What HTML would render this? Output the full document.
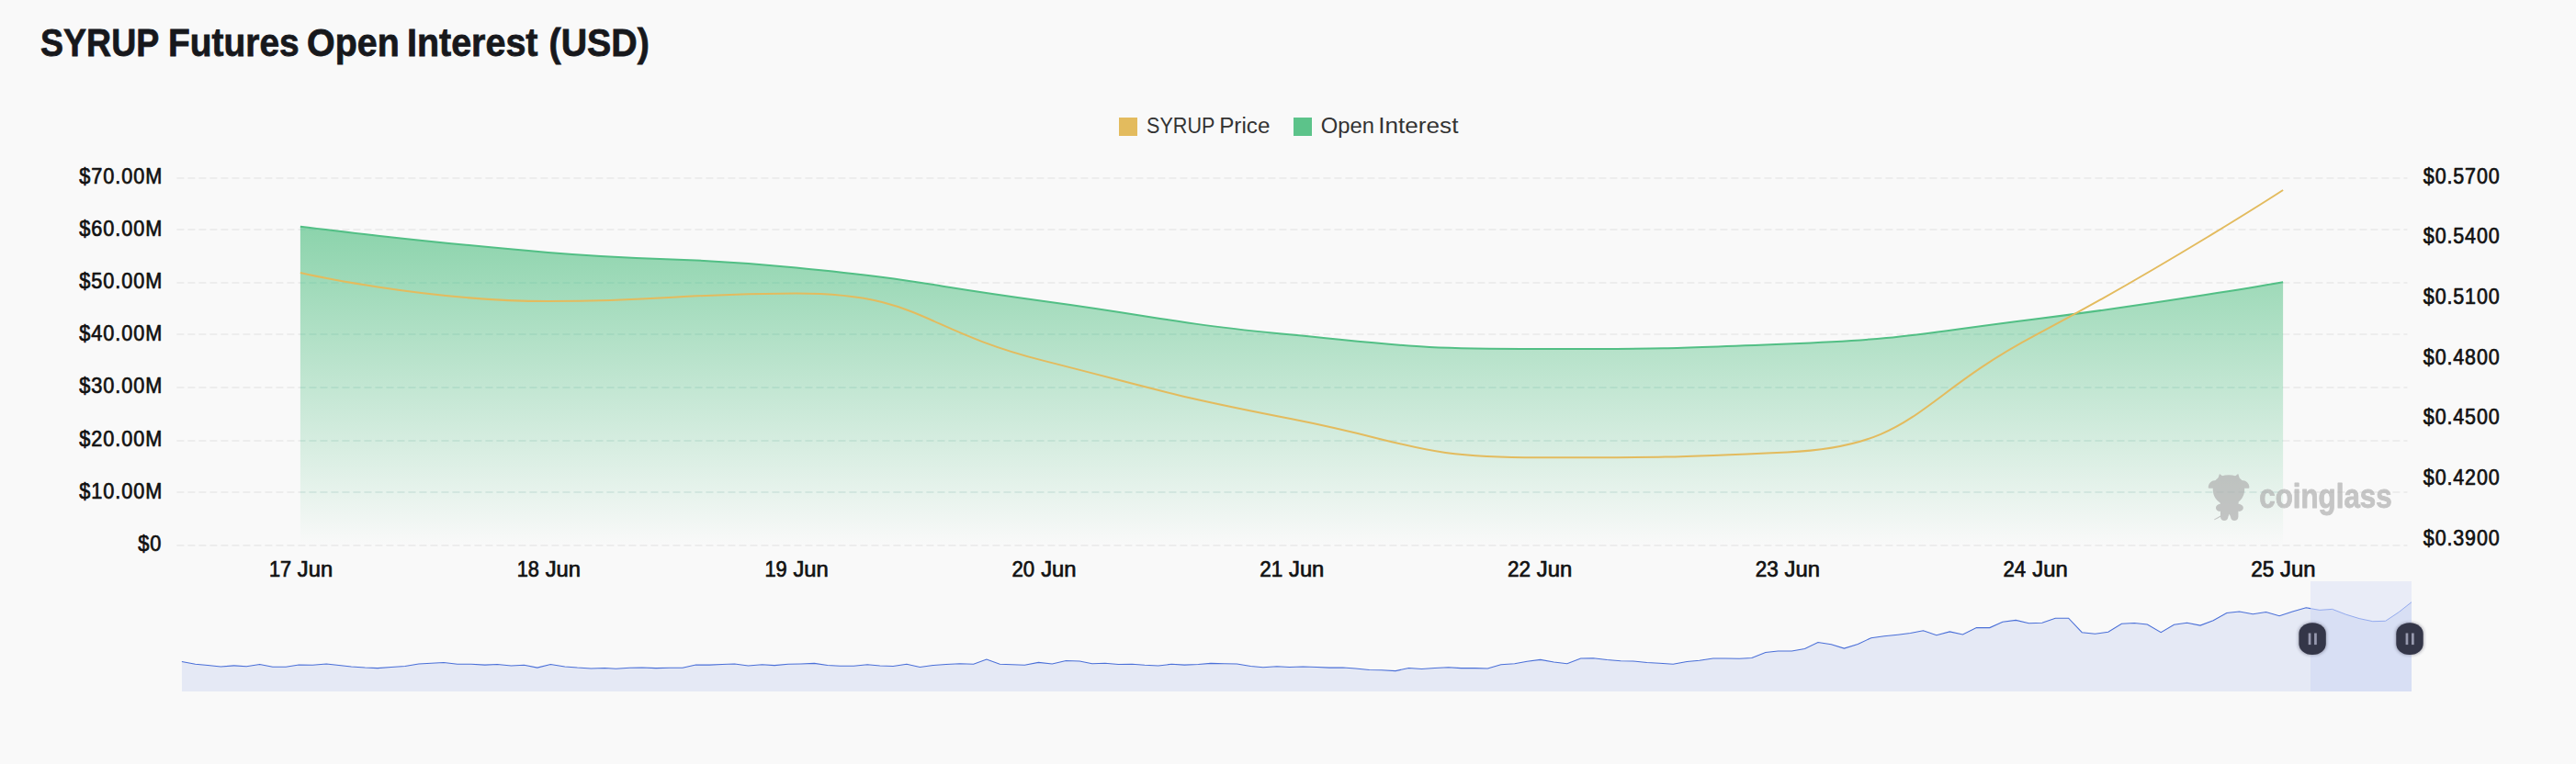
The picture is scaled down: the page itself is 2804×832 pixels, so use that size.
<!DOCTYPE html>
<html lang="en"><head><meta charset="utf-8"><title>SYRUP Futures Open Interest (USD)</title>
<style>
html,body{margin:0;padding:0;background:#f9f9f9;}
body{width:2804px;height:832px;overflow:hidden;position:relative;font-family:"Liberation Sans",Arial,sans-serif;}
</style></head><body>
<svg width="2804" height="832" viewBox="0 0 2804 832" style="position:absolute;left:0;top:0;display:block">
<defs>
<linearGradient id="ga" x1="0" y1="246" x2="0" y2="594" gradientUnits="userSpaceOnUse">
<stop offset="0" stop-color="#5cc38a" stop-opacity="0.70"/>
<stop offset="1" stop-color="#5cc38a" stop-opacity="0"/>
</linearGradient>
<filter id="sh" x="-40%" y="-40%" width="180%" height="180%"><feGaussianBlur stdDeviation="1.6"/></filter>
<clipPath id="cw"><rect x="2515" y="633" width="110" height="120"/></clipPath>
<clipPath id="co"><rect x="190" y="633" width="2325" height="120"/></clipPath>
</defs>
<rect width="2804" height="832" fill="#f9f9f9"/>
<text id="title" y="60.5" font-family="'Liberation Sans',Arial,sans-serif" font-weight="700" font-size="43.0" fill="#17181c" stroke="#17181c" stroke-width="0.8"><tspan x="44.12" textLength="128.47" lengthAdjust="spacingAndGlyphs">SYRUP</tspan> <tspan x="182.97" textLength="142.81" lengthAdjust="spacingAndGlyphs">Futures</tspan> <tspan x="334.07" textLength="100.63" lengthAdjust="spacingAndGlyphs">Open</tspan> <tspan x="442.93" textLength="142.56" lengthAdjust="spacingAndGlyphs">Interest</tspan> <tspan x="597.56" textLength="109.27" lengthAdjust="spacingAndGlyphs">(USD)</tspan></text>
<rect x="1218" y="128" width="20" height="20" fill="#e3bb5e"/>
<text id="lg1" y="144.7" font-family="'Liberation Sans',Arial,sans-serif" font-size="24.2" fill="#333"><tspan x="1248.08" textLength="73.92" lengthAdjust="spacingAndGlyphs">SYRUP</tspan> <tspan x="1327.21" textLength="55.17" lengthAdjust="spacingAndGlyphs">Price</tspan></text>
<rect x="1408" y="128" width="20" height="20" fill="#5cc38a"/>
<text id="lg2" y="144.7" font-family="'Liberation Sans',Arial,sans-serif" font-size="24.2" fill="#333"><tspan x="1437.79" textLength="58.15" lengthAdjust="spacingAndGlyphs">Open</tspan> <tspan x="1500.26" textLength="87.15" lengthAdjust="spacingAndGlyphs">Interest</tspan></text>
<line x1="192.4" y1="194" x2="2620.4" y2="194" stroke="#ededed" stroke-width="2" stroke-dasharray="8 4"/>
<line x1="192.4" y1="250" x2="2620.4" y2="250" stroke="#ededed" stroke-width="2" stroke-dasharray="8 4"/>
<line x1="192.4" y1="308" x2="2620.4" y2="308" stroke="#ededed" stroke-width="2" stroke-dasharray="8 4"/>
<line x1="192.4" y1="364" x2="2620.4" y2="364" stroke="#ededed" stroke-width="2" stroke-dasharray="8 4"/>
<line x1="192.4" y1="422" x2="2620.4" y2="422" stroke="#ededed" stroke-width="2" stroke-dasharray="8 4"/>
<line x1="192.4" y1="480" x2="2620.4" y2="480" stroke="#ededed" stroke-width="2" stroke-dasharray="8 4"/>
<line x1="192.4" y1="536" x2="2620.4" y2="536" stroke="#ededed" stroke-width="2" stroke-dasharray="8 4"/>
<line x1="192.4" y1="594" x2="2620.4" y2="594" stroke="#ededed" stroke-width="2" stroke-dasharray="8 4"/>
<path d="M326.89,246.80 C326.89,246.80 461.54,263.73 596.67,274.90 C731.32,286.03 732.04,278.20 866.44,291.40 C1001.82,304.70 1001.34,309.60 1136.22,327.90 C1271.12,346.20 1270.60,351.53 1406.00,364.60 C1540.38,377.58 1540.79,380.00 1675.78,380.00 C1810.57,380.00 1810.99,380.00 1945.56,374.50 C2080.77,368.97 2080.85,364.27 2215.33,347.50 C2350.63,330.62 2485.11,307.20 2485.11,307.20 L2485.11,594 L326.89,594 Z" fill="url(#ga)"/>
<clipPath id="ca"><path d="M326.89,246.80 C326.89,246.80 461.54,263.73 596.67,274.90 C731.32,286.03 732.04,278.20 866.44,291.40 C1001.82,304.70 1001.34,309.60 1136.22,327.90 C1271.12,346.20 1270.60,351.53 1406.00,364.60 C1540.38,377.58 1540.79,380.00 1675.78,380.00 C1810.57,380.00 1810.99,380.00 1945.56,374.50 C2080.77,368.97 2080.85,364.27 2215.33,347.50 C2350.63,330.62 2485.11,307.20 2485.11,307.20 L2485.11,594 L326.89,594 Z"/></clipPath>
<g clip-path="url(#ca)" stroke="#5ad7c8" stroke-opacity="0.07" stroke-width="2" stroke-dasharray="8 4">
<line x1="192.4" y1="250" x2="2620.4" y2="250"/>
<line x1="192.4" y1="308" x2="2620.4" y2="308"/>
<line x1="192.4" y1="364" x2="2620.4" y2="364"/>
<line x1="192.4" y1="422" x2="2620.4" y2="422"/>
<line x1="192.4" y1="480" x2="2620.4" y2="480"/>
<line x1="192.4" y1="536" x2="2620.4" y2="536"/>
</g>
<path d="M326.89,246.80 C326.89,246.80 461.54,263.73 596.67,274.90 C731.32,286.03 732.04,278.20 866.44,291.40 C1001.82,304.70 1001.34,309.60 1136.22,327.90 C1271.12,346.20 1270.60,351.53 1406.00,364.60 C1540.38,377.58 1540.79,380.00 1675.78,380.00 C1810.57,380.00 1810.99,380.00 1945.56,374.50 C2080.77,368.97 2080.85,364.27 2215.33,347.50 C2350.63,330.62 2485.11,307.20 2485.11,307.20" fill="none" stroke="#52bf85" stroke-width="2"/>
<path d="M326.89,297.00 C326.89,297.00 461.37,328.00 596.67,328.00 C731.15,328.00 733.92,319.60 866.44,319.60 C1003.70,319.60 1000.74,358.58 1136.22,392.90 C1270.52,426.93 1270.11,429.75 1406.00,456.30 C1539.88,482.45 1540.10,498.30 1675.78,498.30 C1809.88,498.30 1817.41,498.30 1945.56,492.40 C2087.19,485.88 2083.64,434.86 2215.33,365.20 C2353.42,292.16 2485.11,207.00 2485.11,207.00" fill="none" stroke="#e3bb5e" stroke-width="2"/>
<text transform="translate(86.35,199.80) scale(0.9132,1.0000)" font-family="'Liberation Sans',Arial,sans-serif" font-size="23.80" fill="#111" stroke="#111" stroke-width="0.70" stroke-linejoin="round" letter-spacing="1.00">$70.00M</text>
<text transform="translate(86.35,256.94) scale(0.9132,1.0000)" font-family="'Liberation Sans',Arial,sans-serif" font-size="23.80" fill="#111" stroke="#111" stroke-width="0.70" stroke-linejoin="round" letter-spacing="1.00">$60.00M</text>
<text transform="translate(86.35,314.09) scale(0.9132,1.0000)" font-family="'Liberation Sans',Arial,sans-serif" font-size="23.80" fill="#111" stroke="#111" stroke-width="0.70" stroke-linejoin="round" letter-spacing="1.00">$50.00M</text>
<text transform="translate(86.35,371.23) scale(0.9132,1.0000)" font-family="'Liberation Sans',Arial,sans-serif" font-size="23.80" fill="#111" stroke="#111" stroke-width="0.70" stroke-linejoin="round" letter-spacing="1.00">$40.00M</text>
<text transform="translate(86.35,428.37) scale(0.9132,1.0000)" font-family="'Liberation Sans',Arial,sans-serif" font-size="23.80" fill="#111" stroke="#111" stroke-width="0.70" stroke-linejoin="round" letter-spacing="1.00">$30.00M</text>
<text transform="translate(86.35,485.51) scale(0.9132,1.0000)" font-family="'Liberation Sans',Arial,sans-serif" font-size="23.80" fill="#111" stroke="#111" stroke-width="0.70" stroke-linejoin="round" letter-spacing="1.00">$20.00M</text>
<text transform="translate(86.35,542.66) scale(0.9132,1.0000)" font-family="'Liberation Sans',Arial,sans-serif" font-size="23.80" fill="#111" stroke="#111" stroke-width="0.70" stroke-linejoin="round" letter-spacing="1.00">$10.00M</text>
<text transform="translate(150.25,599.80) scale(0.9189,1.0000)" font-family="'Liberation Sans',Arial,sans-serif" font-size="23.80" fill="#111" stroke="#111" stroke-width="0.70" stroke-linejoin="round" letter-spacing="1.00">$0</text>
<text transform="translate(2637.85,199.80) scale(0.9001,1.0000)" font-family="'Liberation Sans',Arial,sans-serif" font-size="23.80" fill="#111" stroke="#111" stroke-width="0.70" stroke-linejoin="round" letter-spacing="1.00">$0.5700</text>
<text transform="translate(2637.85,265.43) scale(0.9001,1.0000)" font-family="'Liberation Sans',Arial,sans-serif" font-size="23.80" fill="#111" stroke="#111" stroke-width="0.70" stroke-linejoin="round" letter-spacing="1.00">$0.5400</text>
<text transform="translate(2637.85,331.06) scale(0.9001,1.0000)" font-family="'Liberation Sans',Arial,sans-serif" font-size="23.80" fill="#111" stroke="#111" stroke-width="0.70" stroke-linejoin="round" letter-spacing="1.00">$0.5100</text>
<text transform="translate(2637.85,396.69) scale(0.9001,1.0000)" font-family="'Liberation Sans',Arial,sans-serif" font-size="23.80" fill="#111" stroke="#111" stroke-width="0.70" stroke-linejoin="round" letter-spacing="1.00">$0.4800</text>
<text transform="translate(2637.85,462.32) scale(0.9001,1.0000)" font-family="'Liberation Sans',Arial,sans-serif" font-size="23.80" fill="#111" stroke="#111" stroke-width="0.70" stroke-linejoin="round" letter-spacing="1.00">$0.4500</text>
<text transform="translate(2637.85,527.95) scale(0.9001,1.0000)" font-family="'Liberation Sans',Arial,sans-serif" font-size="23.80" fill="#111" stroke="#111" stroke-width="0.70" stroke-linejoin="round" letter-spacing="1.00">$0.4200</text>
<text transform="translate(2637.85,593.58) scale(0.9001,1.0000)" font-family="'Liberation Sans',Arial,sans-serif" font-size="23.80" fill="#111" stroke="#111" stroke-width="0.70" stroke-linejoin="round" letter-spacing="1.00">$0.3900</text>
<text y="627.9" font-family="'Liberation Sans',Arial,sans-serif" font-size="23.8" fill="#111" stroke="#111" stroke-width="0.70"><tspan x="292.88" textLength="24.25" lengthAdjust="spacingAndGlyphs">17</tspan> <tspan x="323.87" textLength="38.41" lengthAdjust="spacingAndGlyphs">Jun</tspan></text>
<text y="627.9" font-family="'Liberation Sans',Arial,sans-serif" font-size="23.8" fill="#111" stroke="#111" stroke-width="0.70"><tspan x="562.65" textLength="24.25" lengthAdjust="spacingAndGlyphs">18</tspan> <tspan x="593.64" textLength="38.41" lengthAdjust="spacingAndGlyphs">Jun</tspan></text>
<text y="627.9" font-family="'Liberation Sans',Arial,sans-serif" font-size="23.8" fill="#111" stroke="#111" stroke-width="0.70"><tspan x="832.43" textLength="24.25" lengthAdjust="spacingAndGlyphs">19</tspan> <tspan x="863.42" textLength="38.41" lengthAdjust="spacingAndGlyphs">Jun</tspan></text>
<text y="627.9" font-family="'Liberation Sans',Arial,sans-serif" font-size="23.8" fill="#111" stroke="#111" stroke-width="0.70"><tspan x="1101.43" textLength="24.69" lengthAdjust="spacingAndGlyphs">20</tspan> <tspan x="1133.20" textLength="38.41" lengthAdjust="spacingAndGlyphs">Jun</tspan></text>
<text y="627.9" font-family="'Liberation Sans',Arial,sans-serif" font-size="23.8" fill="#111" stroke="#111" stroke-width="0.70"><tspan x="1371.19" textLength="25.07" lengthAdjust="spacingAndGlyphs">21</tspan> <tspan x="1402.98" textLength="38.41" lengthAdjust="spacingAndGlyphs">Jun</tspan></text>
<text y="627.9" font-family="'Liberation Sans',Arial,sans-serif" font-size="23.8" fill="#111" stroke="#111" stroke-width="0.70"><tspan x="1640.97" textLength="25.07" lengthAdjust="spacingAndGlyphs">22</tspan> <tspan x="1672.76" textLength="38.41" lengthAdjust="spacingAndGlyphs">Jun</tspan></text>
<text y="627.9" font-family="'Liberation Sans',Arial,sans-serif" font-size="23.8" fill="#111" stroke="#111" stroke-width="0.70"><tspan x="1910.75" textLength="25.07" lengthAdjust="spacingAndGlyphs">23</tspan> <tspan x="1942.53" textLength="38.41" lengthAdjust="spacingAndGlyphs">Jun</tspan></text>
<text y="627.9" font-family="'Liberation Sans',Arial,sans-serif" font-size="23.8" fill="#111" stroke="#111" stroke-width="0.70"><tspan x="2180.54" textLength="24.69" lengthAdjust="spacingAndGlyphs">24</tspan> <tspan x="2212.31" textLength="38.41" lengthAdjust="spacingAndGlyphs">Jun</tspan></text>
<text y="627.9" font-family="'Liberation Sans',Arial,sans-serif" font-size="23.8" fill="#111" stroke="#111" stroke-width="0.70"><tspan x="2450.30" textLength="25.07" lengthAdjust="spacingAndGlyphs">25</tspan> <tspan x="2482.09" textLength="38.41" lengthAdjust="spacingAndGlyphs">Jun</tspan></text>
<g id="wm" fill="#b0b0b0" opacity="0.71" transform="translate(2395,505) scale(0.091625)">
<path d="M338,133 C400,133 452,150 485,185 C515,215 526,255 526,305 C526,365 500,420 452,455 L452,470 L240,470 L225,455 C176,420 150,365 150,305 C150,255 161,215 191,185 C224,150 276,133 338,133 Z"/>
<path d="M215,198 C140,188 95,228 95,283 Q95,292 105,292 L215,292 Z"/>
<path d="M463,198 C538,188 583,228 583,283 Q583,292 573,292 L463,292 Z"/>
<path d="M205,195 L228,124 Q233,118 238,126 L280,160 Z"/>
<path d="M473,195 L452,124 Q447,118 442,126 L398,160 Z"/>
<path d="M240,440 L240,475 C205,482 185,500 185,525 C185,555 215,572 240,565 L240,630 C240,660 262,678 285,678 C310,678 330,660 332,630 L345,598 L360,630 C362,660 382,678 405,678 C430,678 452,660 452,630 L452,565 C480,572 512,555 512,525 C512,500 490,482 452,475 L452,440 Z"/>
<path d="M243,622 Q215,640 172,662" fill="none" stroke="#b0b0b0" stroke-width="11" stroke-linecap="round"/>
</g>
<text transform="translate(2459.27,553.00) scale(0.8603,1.0000)" font-family="'Liberation Sans',Arial,sans-serif" font-size="36.40" font-weight="700" fill="#b0b0b0" stroke="#b0b0b0" stroke-width="0.90" stroke-linejoin="round" opacity="0.71">coinglass</text>
<path d="M197.9,720.5 L212.6,723.3 L226.2,724.6 L240.3,726.0 L254.7,724.9 L268.3,725.7 L282.7,723.5 L296.8,726.2 L311.2,726.2 L325.4,724.1 L340.3,724.3 L355.3,723.0 L368.9,724.6 L382.4,726.0 L397.4,727.1 L411.0,727.6 L425.9,726.5 L440.9,725.4 L455.8,723.0 L469.4,722.2 L483.0,721.6 L497.9,723.3 L512.9,723.3 L527.8,724.1 L541.4,723.5 L556.4,724.9 L570.5,724.3 L584.9,727.1 L599.3,723.5 L614.8,726.0 L628.4,727.1 L643.3,727.9 L658.3,727.6 L670.5,728.2 L685.4,727.3 L699.0,727.1 L714.0,727.6 L728.9,727.3 L743.0,727.3 L757.4,724.1 L772.4,724.1 L786.0,723.5 L799.6,723.0 L814.5,724.9 L829.5,723.8 L843.0,724.6 L858.0,723.3 L871.6,723.0 L886.4,722.4 L900.8,724.6 L914.3,725.2 L929.3,725.2 L944.2,723.8 L957.8,724.9 L972.2,725.4 L986.9,723.3 L1001.3,726.5 L1015.7,724.6 L1029.8,723.5 L1044.8,722.7 L1059.7,723.3 L1073.9,718.1 L1088.3,723.3 L1101.8,723.8 L1115.4,724.3 L1130.4,721.4 L1145.3,723.0 L1160.3,719.5 L1175.2,720.0 L1188.8,722.7 L1202.9,722.2 L1217.3,723.5 L1232.3,723.3 L1245.9,724.3 L1260.8,724.9 L1275.2,723.3 L1289.3,724.1 L1304.3,723.5 L1317.9,722.4 L1332.8,722.7 L1346.4,723.0 L1361.4,725.4 L1374.9,726.8 L1389.9,725.7 L1403.5,726.5 L1418.4,726.0 L1433.4,726.5 L1447.0,727.1 L1461.9,727.1 L1475.5,727.9 L1490.4,729.5 L1504.0,729.8 L1519.0,730.6 L1533.4,727.6 L1547.5,728.4 L1561.7,727.6 L1576.7,726.8 L1590.3,727.6 L1605.2,727.6 L1619.3,727.9 L1633.8,723.8 L1648.7,722.7 L1662.3,720.3 L1676.7,718.4 L1691.4,721.1 L1705.8,722.7 L1720.7,717.0 L1734.3,716.7 L1749.2,718.6 L1764.2,719.7 L1777.8,720.0 L1792.7,721.6 L1806.3,722.2 L1821.2,723.3 L1836.2,720.5 L1849.8,719.2 L1864.7,717.0 L1878.3,717.0 L1893.3,717.3 L1906.8,716.5 L1921.8,710.5 L1935.4,709.1 L1950.3,708.9 L1964.5,706.4 L1978.9,699.6 L1993.3,701.8 L2007.4,706.1 L2022.3,701.5 L2036.7,694.7 L2050.9,692.8 L2065.8,691.2 L2079.4,689.6 L2093.5,686.8 L2107.9,691.7 L2122.3,687.9 L2136.5,690.9 L2151.4,683.6 L2165.8,683.6 L2179.9,677.3 L2194.3,675.4 L2208.5,678.7 L2222.9,678.2 L2237.3,673.2 L2251.6,673.2 L2266.2,688.7 L2280.5,690.3 L2294.8,688.3 L2309.4,679.3 L2323.3,678.5 L2337.4,680.1 L2352.2,688.7 L2366.5,680.3 L2380.6,678.3 L2395.0,681.1 L2409.1,675.8 L2423.8,667.5 L2437.6,666.1 L2452.3,668.7 L2466.6,666.5 L2481.1,670.7 L2495.5,666.1 L2510.2,661.8 L2524.9,664.4 L2538.7,663.4 L2553.4,669.1 L2568.1,673.6 L2582.8,676.7 L2596.6,676.3 L2611.3,666.5 L2625.0,655.7 L2625,753 L198,753 Z" fill="#e5e9f5"/>
<rect x="2515" y="633" width="110" height="120" fill="#8a9cf0" fill-opacity="0.135"/>
<path d="M197.9,720.5 L212.6,723.3 L226.2,724.6 L240.3,726.0 L254.7,724.9 L268.3,725.7 L282.7,723.5 L296.8,726.2 L311.2,726.2 L325.4,724.1 L340.3,724.3 L355.3,723.0 L368.9,724.6 L382.4,726.0 L397.4,727.1 L411.0,727.6 L425.9,726.5 L440.9,725.4 L455.8,723.0 L469.4,722.2 L483.0,721.6 L497.9,723.3 L512.9,723.3 L527.8,724.1 L541.4,723.5 L556.4,724.9 L570.5,724.3 L584.9,727.1 L599.3,723.5 L614.8,726.0 L628.4,727.1 L643.3,727.9 L658.3,727.6 L670.5,728.2 L685.4,727.3 L699.0,727.1 L714.0,727.6 L728.9,727.3 L743.0,727.3 L757.4,724.1 L772.4,724.1 L786.0,723.5 L799.6,723.0 L814.5,724.9 L829.5,723.8 L843.0,724.6 L858.0,723.3 L871.6,723.0 L886.4,722.4 L900.8,724.6 L914.3,725.2 L929.3,725.2 L944.2,723.8 L957.8,724.9 L972.2,725.4 L986.9,723.3 L1001.3,726.5 L1015.7,724.6 L1029.8,723.5 L1044.8,722.7 L1059.7,723.3 L1073.9,718.1 L1088.3,723.3 L1101.8,723.8 L1115.4,724.3 L1130.4,721.4 L1145.3,723.0 L1160.3,719.5 L1175.2,720.0 L1188.8,722.7 L1202.9,722.2 L1217.3,723.5 L1232.3,723.3 L1245.9,724.3 L1260.8,724.9 L1275.2,723.3 L1289.3,724.1 L1304.3,723.5 L1317.9,722.4 L1332.8,722.7 L1346.4,723.0 L1361.4,725.4 L1374.9,726.8 L1389.9,725.7 L1403.5,726.5 L1418.4,726.0 L1433.4,726.5 L1447.0,727.1 L1461.9,727.1 L1475.5,727.9 L1490.4,729.5 L1504.0,729.8 L1519.0,730.6 L1533.4,727.6 L1547.5,728.4 L1561.7,727.6 L1576.7,726.8 L1590.3,727.6 L1605.2,727.6 L1619.3,727.9 L1633.8,723.8 L1648.7,722.7 L1662.3,720.3 L1676.7,718.4 L1691.4,721.1 L1705.8,722.7 L1720.7,717.0 L1734.3,716.7 L1749.2,718.6 L1764.2,719.7 L1777.8,720.0 L1792.7,721.6 L1806.3,722.2 L1821.2,723.3 L1836.2,720.5 L1849.8,719.2 L1864.7,717.0 L1878.3,717.0 L1893.3,717.3 L1906.8,716.5 L1921.8,710.5 L1935.4,709.1 L1950.3,708.9 L1964.5,706.4 L1978.9,699.6 L1993.3,701.8 L2007.4,706.1 L2022.3,701.5 L2036.7,694.7 L2050.9,692.8 L2065.8,691.2 L2079.4,689.6 L2093.5,686.8 L2107.9,691.7 L2122.3,687.9 L2136.5,690.9 L2151.4,683.6 L2165.8,683.6 L2179.9,677.3 L2194.3,675.4 L2208.5,678.7 L2222.9,678.2 L2237.3,673.2 L2251.6,673.2 L2266.2,688.7 L2280.5,690.3 L2294.8,688.3 L2309.4,679.3 L2323.3,678.5 L2337.4,680.1 L2352.2,688.7 L2366.5,680.3 L2380.6,678.3 L2395.0,681.1 L2409.1,675.8 L2423.8,667.5 L2437.6,666.1 L2452.3,668.7 L2466.6,666.5 L2481.1,670.7 L2495.5,666.1 L2510.2,661.8 L2524.9,664.4 L2538.7,663.4 L2553.4,669.1 L2568.1,673.6 L2582.8,676.7 L2596.6,676.3 L2611.3,666.5 L2625.0,655.7" fill="none" stroke="#4a6fd8" stroke-width="1.05" clip-path="url(#co)"/>
<path d="M197.9,720.5 L212.6,723.3 L226.2,724.6 L240.3,726.0 L254.7,724.9 L268.3,725.7 L282.7,723.5 L296.8,726.2 L311.2,726.2 L325.4,724.1 L340.3,724.3 L355.3,723.0 L368.9,724.6 L382.4,726.0 L397.4,727.1 L411.0,727.6 L425.9,726.5 L440.9,725.4 L455.8,723.0 L469.4,722.2 L483.0,721.6 L497.9,723.3 L512.9,723.3 L527.8,724.1 L541.4,723.5 L556.4,724.9 L570.5,724.3 L584.9,727.1 L599.3,723.5 L614.8,726.0 L628.4,727.1 L643.3,727.9 L658.3,727.6 L670.5,728.2 L685.4,727.3 L699.0,727.1 L714.0,727.6 L728.9,727.3 L743.0,727.3 L757.4,724.1 L772.4,724.1 L786.0,723.5 L799.6,723.0 L814.5,724.9 L829.5,723.8 L843.0,724.6 L858.0,723.3 L871.6,723.0 L886.4,722.4 L900.8,724.6 L914.3,725.2 L929.3,725.2 L944.2,723.8 L957.8,724.9 L972.2,725.4 L986.9,723.3 L1001.3,726.5 L1015.7,724.6 L1029.8,723.5 L1044.8,722.7 L1059.7,723.3 L1073.9,718.1 L1088.3,723.3 L1101.8,723.8 L1115.4,724.3 L1130.4,721.4 L1145.3,723.0 L1160.3,719.5 L1175.2,720.0 L1188.8,722.7 L1202.9,722.2 L1217.3,723.5 L1232.3,723.3 L1245.9,724.3 L1260.8,724.9 L1275.2,723.3 L1289.3,724.1 L1304.3,723.5 L1317.9,722.4 L1332.8,722.7 L1346.4,723.0 L1361.4,725.4 L1374.9,726.8 L1389.9,725.7 L1403.5,726.5 L1418.4,726.0 L1433.4,726.5 L1447.0,727.1 L1461.9,727.1 L1475.5,727.9 L1490.4,729.5 L1504.0,729.8 L1519.0,730.6 L1533.4,727.6 L1547.5,728.4 L1561.7,727.6 L1576.7,726.8 L1590.3,727.6 L1605.2,727.6 L1619.3,727.9 L1633.8,723.8 L1648.7,722.7 L1662.3,720.3 L1676.7,718.4 L1691.4,721.1 L1705.8,722.7 L1720.7,717.0 L1734.3,716.7 L1749.2,718.6 L1764.2,719.7 L1777.8,720.0 L1792.7,721.6 L1806.3,722.2 L1821.2,723.3 L1836.2,720.5 L1849.8,719.2 L1864.7,717.0 L1878.3,717.0 L1893.3,717.3 L1906.8,716.5 L1921.8,710.5 L1935.4,709.1 L1950.3,708.9 L1964.5,706.4 L1978.9,699.6 L1993.3,701.8 L2007.4,706.1 L2022.3,701.5 L2036.7,694.7 L2050.9,692.8 L2065.8,691.2 L2079.4,689.6 L2093.5,686.8 L2107.9,691.7 L2122.3,687.9 L2136.5,690.9 L2151.4,683.6 L2165.8,683.6 L2179.9,677.3 L2194.3,675.4 L2208.5,678.7 L2222.9,678.2 L2237.3,673.2 L2251.6,673.2 L2266.2,688.7 L2280.5,690.3 L2294.8,688.3 L2309.4,679.3 L2323.3,678.5 L2337.4,680.1 L2352.2,688.7 L2366.5,680.3 L2380.6,678.3 L2395.0,681.1 L2409.1,675.8 L2423.8,667.5 L2437.6,666.1 L2452.3,668.7 L2466.6,666.5 L2481.1,670.7 L2495.5,666.1 L2510.2,661.8 L2524.9,664.4 L2538.7,663.4 L2553.4,669.1 L2568.1,673.6 L2582.8,676.7 L2596.6,676.3 L2611.3,666.5 L2625.0,655.7" fill="none" stroke="#93aaee" stroke-width="1.0" clip-path="url(#cw)"/>
<rect x="2501.4" y="677.8" width="31.4" height="36" rx="14" ry="12" fill="#343648" fill-opacity="0.35" filter="url(#sh)"/>
<rect x="2502.4" y="678.3" width="29.4" height="34.6" rx="14.2" ry="12" fill="#343648"/>
<rect x="2512.7" y="689.5" width="2.7" height="12.6" fill="#9799ae"/>
<rect x="2519.1" y="689.5" width="2.7" height="12.6" fill="#9799ae"/>
<rect x="2607.3" y="677.8" width="31.4" height="36" rx="14" ry="12" fill="#343648" fill-opacity="0.35" filter="url(#sh)"/>
<rect x="2608.3" y="678.3" width="29.4" height="34.6" rx="14.2" ry="12" fill="#343648"/>
<rect x="2618.6" y="689.5" width="2.7" height="12.6" fill="#9799ae"/>
<rect x="2625.0" y="689.5" width="2.7" height="12.6" fill="#9799ae"/>
</svg>
</body></html>
